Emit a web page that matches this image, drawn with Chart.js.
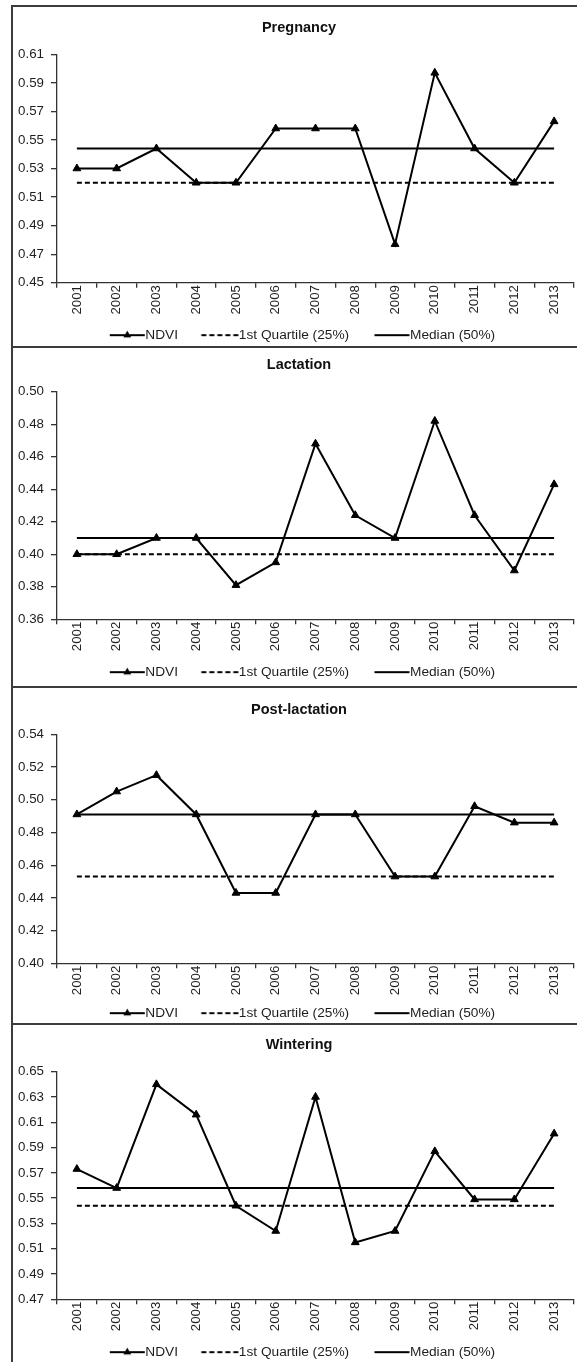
<!DOCTYPE html>
<html>
<head>
<meta charset="utf-8">
<script src="https://cdn.jsdelivr.net/npm/chart.js@4.4.1/dist/chart.umd.min.js"></script>
<style>
  html, body { margin: 0; padding: 0; background: #fff; overflow: hidden; width: 577px; height: 1362px; }
  #fig { position: relative; width: 577px; height: 1362px; overflow: hidden; }
  .panel { position: absolute; left: 13px; }
  .rule { position: absolute; background: #3c3c3c; z-index: 2; }
</style>
</head>
<body>
<div id="fig">
  <div class="rule" style="left:11px; top:5px; width:600px; height:2px;"></div>
  <div class="rule" style="left:11px; top:5px; width:2px; height:1400px;"></div>
  <div class="rule" style="left:11px; top:346px; width:600px; height:2px;"></div>
  <div class="rule" style="left:11px; top:686px; width:600px; height:2px;"></div>
  <div class="rule" style="left:11px; top:1023px; width:600px; height:2px;"></div>
  <canvas id="c0" class="panel"></canvas>
  <canvas id="c1" class="panel"></canvas>
  <canvas id="c2" class="panel"></canvas>
  <canvas id="c3" class="panel"></canvas>
</div>
<script>
// Years on the category axis
const years = ['2001', '2002', '2003', '2004', '2005', '2006', '2007',
               '2008', '2009', '2010', '2011', '2012', '2013'];

// Pregnancy season
const pregnancyNdvi = [0.530, 0.530, 0.544, 0.520, 0.520, 0.558, 0.558,
                       0.558, 0.477, 0.597, 0.544, 0.520, 0.563];
const pregnancyQuartile = 0.520;
const pregnancyMedian = 0.544;
const pregnancyRange = [0.45, 0.61];

// Lactation season
const lactationNdvi = [0.400, 0.400, 0.410, 0.410, 0.381, 0.395, 0.468,
                       0.424, 0.410, 0.482, 0.424, 0.390, 0.443];
const lactationQuartile = 0.400;
const lactationMedian = 0.410;
const lactationRange = [0.36, 0.50];

// Post-lactation season
const postLactationNdvi = [0.491, 0.505, 0.515, 0.491, 0.443, 0.443, 0.491,
                           0.491, 0.453, 0.453, 0.496, 0.486, 0.486];
const postLactationQuartile = 0.453;
const postLactationMedian = 0.491;
const postLactationRange = [0.40, 0.54];

// Wintering season
const winteringNdvi = [0.573, 0.558, 0.640, 0.616, 0.544, 0.524, 0.630,
                       0.515, 0.524, 0.587, 0.549, 0.549, 0.601];
const winteringQuartile = 0.544;
const winteringMedian = 0.558;
const winteringRange = [0.47, 0.65];

const tickStep = 0.02;
const seriesNames = ['NDVI', '1st Quartile (25%)', 'Median (50%)'];

const panels = [
  { title: 'Pregnancy', ndvi: pregnancyNdvi, q1: pregnancyQuartile, median: pregnancyMedian, range: pregnancyRange },
  { title: 'Lactation', ndvi: lactationNdvi, q1: lactationQuartile, median: lactationMedian, range: lactationRange },
  { title: 'Post-lactation', ndvi: postLactationNdvi, q1: postLactationQuartile, median: postLactationMedian, range: postLactationRange },
  { title: 'Wintering', ndvi: winteringNdvi, q1: winteringQuartile, median: winteringMedian, range: winteringRange }
];

// Panel placement on the page (canvas top, canvas height, title padding, x-axis band height)
const panelBoxes = [
  { top: 7,    height: 345, titlePad: { top: 12.0, bottom: 17.9 }, xBand: 34.6 },
  { top: 348,  height: 341, titlePad: { top: 8.3,  bottom: 18.0 }, xBand: 35.0 },
  { top: 688,  height: 342, titlePad: { top: 13.3, bottom: 15.6 }, xBand: 32.0 },
  { top: 1025, height: 344, titlePad: { top: 11.3, bottom: 18.0 }, xBand: 35.0 }
];

const CANVAS_W = 572;
const Y_AXIS_W = 44;
const RIGHT_GAP = 11;

const FONT = '"Liberation Sans", Arial, Helvetica, sans-serif';
const INK = '#000';
const TEXT = '#1e1e1e';
const AXIS = '#333';

// Legend geometry
const LEGEND_FONT = 13.7;
const LEGEND_PAD = 11;
const LEGEND_BOX = 43;
const LEGEND_DX = -3.7;
const SAMPLE_W = 64;

Chart.defaults.font.family = FONT;

// Legend samples: line with triangle, dashed line, solid line.
// Each sample ends just before its label text.
function legendSample(kind) {
  const c = document.createElement('canvas');
  c.width = SAMPLE_W; c.height = 12;
  const g = c.getContext('2d');
  g.strokeStyle = INK; g.fillStyle = INK; g.lineWidth = 2;
  const y = 6;
  const end = SAMPLE_W / 2 + LEGEND_BOX / 2 + LEGEND_FONT / 2 - 0.5;
  if (kind === 'dash') {
    g.setLineDash([5, 3]);
    g.beginPath(); g.moveTo(end - 37, y); g.lineTo(end, y); g.stroke();
  } else {
    const start = end - 35;
    g.beginPath(); g.moveTo(start, y); g.lineTo(end, y); g.stroke();
    if (kind === 'marker') {
      const cx = (start + end) / 2, r = 4.5, hw = r * Math.sin(Math.PI / 3);
      g.beginPath();
      g.moveTo(cx, y - r); g.lineTo(cx + hw, y + r / 2); g.lineTo(cx - hw, y + r / 2);
      g.closePath(); g.fill();
    }
  }
  return c;
}
const samples = [legendSample('marker'), legendSample('dash'), legendSample('solid')];

// Moves the legend row sideways after the layout pass
const legendNudge = {
  id: 'legendNudge',
  afterLayout(chart, args, opts) {
    const lg = chart.legend;
    if (lg) { lg.left += opts.dx; lg.right += opts.dx; }
  }
};

panels.forEach((p, i) => {
  const box = panelBoxes[i];
  const canvas = document.getElementById('c' + i);
  canvas.width = CANVAS_W; canvas.height = box.height;
  canvas.style.width = CANVAS_W + 'px'; canvas.style.height = box.height + 'px';
  canvas.style.top = box.top + 'px';

  new Chart(canvas, {
    type: 'line',
    plugins: [legendNudge],
    data: {
      labels: years,
      datasets: [
        {
          label: seriesNames[0], data: p.ndvi, order: 0,
          borderColor: INK, borderWidth: 2, tension: 0,
          pointStyle: 'triangle', pointRadius: 4.5,
          pointBackgroundColor: INK, pointBorderColor: INK, pointBorderWidth: 1
        },
        {
          label: seriesNames[1], data: years.map(() => p.q1), order: 1,
          borderColor: INK, borderWidth: 2, borderDash: [5, 3], pointRadius: 0
        },
        {
          label: seriesNames[2], data: years.map(() => p.median), order: 2,
          borderColor: INK, borderWidth: 2, pointRadius: 0
        }
      ]
    },
    options: {
      responsive: false,
      animation: false,
      devicePixelRatio: 1,
      layout: { padding: 0 },
      plugins: {
        tooltip: { enabled: false },
        legendNudge: { dx: LEGEND_DX },
        title: {
          display: true, text: p.title, color: '#111',
          font: { size: 14.5, weight: 'bold', family: FONT, lineHeight: 1.2 },
          padding: box.titlePad
        },
        legend: {
          display: true, position: 'bottom',
          labels: {
            usePointStyle: true, pointStyleWidth: LEGEND_BOX, padding: LEGEND_PAD,
            color: TEXT, font: { size: LEGEND_FONT, family: FONT },
            generateLabels: (chart) => chart.data.datasets.map((ds, k) => ({
              text: ds.label, pointStyle: samples[k], datasetIndex: k,
              fontColor: TEXT, fillStyle: 'transparent', strokeStyle: 'transparent',
              lineWidth: 0, hidden: false
            }))
          }
        }
      },
      scales: {
        x: {
          type: 'category', offset: true,
          grid: { display: true, offset: true, drawOnChartArea: false, drawTicks: true,
                  tickLength: 5, color: AXIS, lineWidth: 1.3 },
          border: { display: true, color: AXIS, width: 1.3 },
          ticks: { autoSkip: false, minRotation: 90, maxRotation: 90, padding: -2.7,
                   color: TEXT, font: { size: 13.3, family: FONT } },
          afterFit: (s) => { s.height = box.xBand; }
        },
        y: {
          type: 'linear', position: 'left', min: p.range[0], max: p.range[1],
          grid: { display: true, drawOnChartArea: false, drawTicks: true,
                  tickLength: 6, color: AXIS, lineWidth: 1.3 },
          border: { display: true, color: AXIS, width: 1.3 },
          ticks: { stepSize: tickStep, padding: 7, color: TEXT,
                   font: { size: 13.3, family: FONT },
                   callback: (v) => Number(v).toFixed(2) },
          afterFit: (s) => { s.width = Y_AXIS_W; }
        },
        yRight: {
          type: 'linear', position: 'right', display: true,
          grid: { display: false }, border: { display: false }, ticks: { display: false },
          afterFit: (s) => { s.width = RIGHT_GAP; }
        }
      }
    }
  });
});
</script>
</body>
</html>
